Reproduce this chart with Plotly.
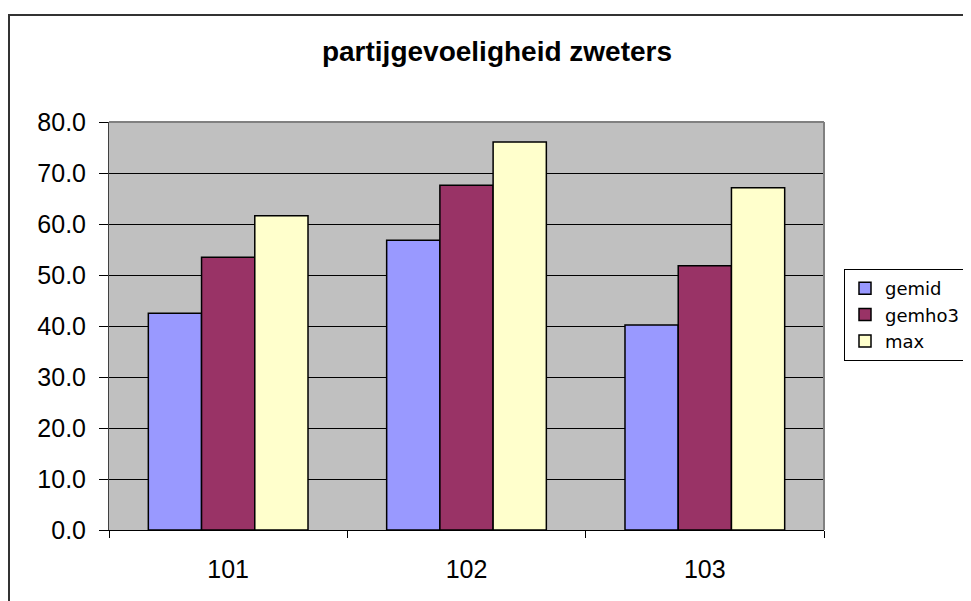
import plotly.graph_objects as go

categories = ["101", "102", "103"]
gemid = [42.5, 56.8, 40.2]
gemho3 = [53.5, 67.6, 51.8]
maxv = [61.6, 76.1, 67.1]
series_names = ["gemid", "gemho3", "max"]
colors = ["#9999FF", "#993366", "#FFFFCC"]
y_ticks = [0, 10, 20, 30, 40, 50, 60, 70, 80]

fig = go.Figure()
for name, vals, col in zip(series_names, [gemid, gemho3, maxv], colors):
    fig.add_trace(go.Bar(x=categories, y=vals, name=name,
                         marker=dict(color=col, line=dict(color="black", width=1.5))))

# page has an 8px body margin; figure coords = screen coords - 8
OFF = 8
W, H = 963, 593
L, T = 109 - OFF, 122 - OFF
pw, ph = 824 - 109, 530 - 122
R = W - L - pw
B = H - T - ph

def px(xs):
    return (xs - OFF - L) / pw

def py(ys):
    return (H - (ys - OFF) - B) / ph

fig.update_layout(
    width=W, height=H,
    margin=dict(l=L, r=R, t=T, b=B, autoexpand=False),
    paper_bgcolor="white",
    plot_bgcolor="#C0C0C0",
    barmode="group",
    bargap=0.33,
    bargroupgap=0,
    font=dict(family="Liberation Sans, Arial", size=25, color="black"),
    title=dict(text="<b>partijgevoeligheid zweters</b>", x=(497 - OFF) / W, xanchor="center",
               y=1 - (51 - OFF) / H, yanchor="middle", font=dict(size=28)),
    legend=dict(x=px(844), y=py(269), xanchor="left", yanchor="top",
                bgcolor="white", bordercolor="black", borderwidth=1,
                font=dict(size=18, family="DejaVu Sans"), tracegroupgap=0, itemwidth=30),
    xaxis=dict(type="category", tickson="boundaries", ticks="outside", ticklen=7,
               tickcolor="black", showline=True, linecolor="black", linewidth=1,
               showgrid=False, range=[-0.5, 2.5], ticklabelstandoff=17),
    yaxis=dict(range=[0, 80], tickvals=y_ticks, ticktext=[f"{v:.1f}" for v in y_ticks],
               ticks="outside", ticklen=9, tickcolor="black", ticklabelstandoff=8,
               showline=True, linecolor="#404040", linewidth=1,
               showgrid=True, gridcolor="black", gridwidth=1, zeroline=False),
    shapes=[
        dict(type="line", xref="paper", yref="paper", x0=0, x1=1, y0=1, y1=1,
             line=dict(color="#808080", width=2)),
        dict(type="line", xref="paper", yref="paper", x0=1, x1=1, y0=0, y1=1,
             line=dict(color="#808080", width=2)),
        dict(type="rect", xref="paper", yref="paper",
             x0=px(9), x1=px(1000), y0=py(15), y1=py(700),
             line=dict(color="#333333", width=2), fillcolor="rgba(0,0,0,0)"),
    ],
)

fig.write_html("out.html")
